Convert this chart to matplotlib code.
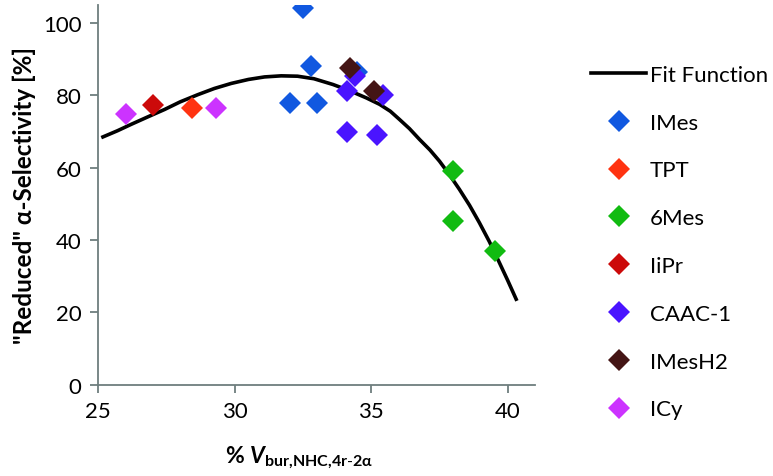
import matplotlib
matplotlib.use("Agg")
import matplotlib.pyplot as plt

plt.rcParams['font.family'] = ['Lato', 'DejaVu Sans']
plt.rcParams['mathtext.fontset'] = 'custom'
plt.rcParams['mathtext.rm'] = 'Lato'
plt.rcParams['mathtext.bf'] = 'Lato:bold'
plt.rcParams['mathtext.it'] = 'Lato:italic'
plt.rcParams['mathtext.bfit'] = 'Lato:italic:bold'

# Fit function
fit_x = [25.17, 25.7, 26.21, 26.8, 27.43, 28.0, 28.65, 29.25, 29.87, 30.5, 31.09, 31.7,
         32.3, 32.9, 33.60, 34.2, 34.82, 35.31, 35.7, 36.04, 36.4, 36.77, 37.15, 37.50,
         37.85, 38.23, 38.6, 38.96, 39.33, 39.69, 40.0, 40.31]
fit_y = [68.5, 70.2, 72.0, 74.0, 76.1, 78.2, 80.2, 81.9, 83.3, 84.4, 85.1, 85.4,
         85.3, 84.6, 83.0, 81.3, 79.3, 77.5, 75.6, 73.3, 70.8, 67.8, 64.9, 61.8,
         58.2, 54.0, 49.6, 44.8, 39.5, 33.8, 28.8, 23.6]

series = ['IMes', 'TPT', '6Mes', 'IiPr', 'CAAC-1', 'IMesH2', 'ICy']
colors = ['#1158E0', '#FF3311', '#11BB11', '#CC0A0A', '#4A14FF', '#441515', '#CC33FF']
xs = {
    'IMes':   [32.01, 32.50, 32.81, 33.0, 34.49],
    'TPT':    [28.42],
    '6Mes':   [37.99, 38.0, 39.52],
    'IiPr':   [27.01],
    'CAAC-1': [34.11, 34.11, 34.39, 35.43, 35.21],
    'IMesH2': [34.21, 35.09],
    'ICy':    [26.0, 29.30],
}
ys = {
    'IMes':   [77.9, 104.2, 88.0, 77.9, 86.4],
    'TPT':    [76.4],
    '6Mes':   [59.2, 45.1, 36.8],
    'IiPr':   [77.4],
    'CAAC-1': [81.1, 69.8, 85.3, 80.2, 68.9],
    'IMesH2': [87.5, 81.1],
    'ICy':    [74.8, 76.4],
}

fig = plt.figure(figsize=(7.73, 4.77), dpi=100)
ax = fig.add_axes([98.3 / 773, 1 - 385.5 / 477, (535 - 98.3) / 773, (385.5 - 6) / 477])

line, = ax.plot(fit_x, fit_y, color='black', lw=2.6, zorder=2, label='Fit Function',
                solid_joinstyle='round')
handles = [line]
for s, c in zip(series, colors):
    h, = ax.plot(xs[s], ys[s], linestyle='none', marker='D', ms=11, color=c,
                 markeredgewidth=0, zorder=3, label=s)
    handles.append(h)

ax.set_xlim(25, 41)
ax.set_ylim(0, 105)
ax.set_xticks([25, 30, 35, 40])
ax.set_yticks([0, 20, 40, 60, 80, 100])

spine_c = '#6E7E7E'
for sp in ['top', 'right']:
    ax.spines[sp].set_visible(False)
for sp in ['left', 'bottom']:
    ax.spines[sp].set_color(spine_c)
    ax.spines[sp].set_linewidth(1.3)
ax.tick_params(axis='both', direction='out', length=6, width=1.3, color=spine_c,
               labelsize=16, labelcolor='black', pad=6)

ax.set_ylabel('"Reduced" α-Selectivity [%]', fontsize=17.5, fontweight='bold', labelpad=5)
ax.set_xlabel(r'% $\mathbfit{V}_{\mathbf{bur{,}NHC{,}4r\text{-}2α}}$', fontsize=16.5,
              fontweight='bold')
ax.xaxis.set_label_coords((299 - 98.3) / (535 - 98.3), -0.155)

leg = fig.legend(handles=handles, loc='upper left', bbox_to_anchor=(582 / 773, 1 - 57 / 477),
                 frameon=False, fontsize=16, handlelength=2.5, handletextpad=0.15,
                 labelspacing=1.25, borderaxespad=0)

fig.savefig('out.png', dpi=100)
